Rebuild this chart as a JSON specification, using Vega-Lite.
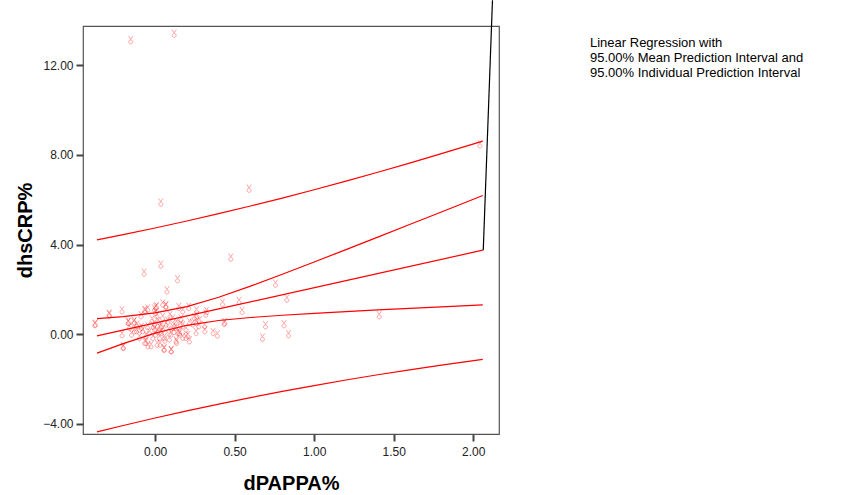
{
  "$schema": "https://vega.github.io/schema/vega-lite/v6.json",
  "width": 416,
  "height": 408,
  "autosize": {"type": "none"},
  "padding": {"left": 83, "top": 26, "right": 350, "bottom": 61},
  "background": "white",
  "title": {
    "text": ["Linear Regression with", "95.00% Mean Prediction Interval and", "95.00% Individual Prediction Interval"],
    "anchor": "start",
    "frame": "group",
    "orient": "top",
    "baseline": "top",
    "offset": 0,
    "dx": 507,
    "dy": 82,
    "font": "Liberation Sans",
    "fontSize": 13,
    "fontWeight": "normal",
    "lineHeight": 15,
    "color": "#000000"
  },
  "config": {
    "view": {"stroke": "#555555", "strokeWidth": 1.2},
    "font": "Liberation Sans",
    "axis": {
      "domain": false,
      "grid": false,
      "tickColor": "#444444",
      "tickWidth": 2,
      "tickSize": 7,
      "labelFont": "Liberation Sans",
      "labelFontSize": 12,
      "labelColor": "#222222",
      "titleFont": "Liberation Sans",
      "titleFontSize": 20,
      "titleFontWeight": "bold",
      "titleColor": "#000000"
    }
  },
  "datasets": {
    "pts": [
      {"x": -0.153, "y": 13.13}, {"x": 0.12, "y": 13.42}, {"x": 2.042, "y": 8.48},
      {"x": 0.591, "y": 6.5}, {"x": 0.036, "y": 5.88}, {"x": 0.476, "y": 3.42},
      {"x": 0.036, "y": 3.11}, {"x": -0.069, "y": 2.75}, {"x": 0.141, "y": 2.46},
      {"x": 0.075, "y": 1.96}, {"x": 0.757, "y": 2.26}, {"x": 0.828, "y": 1.59},
      {"x": 1.409, "y": 0.85}, {"x": 0.547, "y": 1.04}, {"x": 0.528, "y": 1.49},
      {"x": 0.424, "y": 1.4}, {"x": -0.208, "y": 1.07}, {"x": -0.289, "y": 0.92},
      {"x": 0.067, "y": 1.28}, {"x": 0.004, "y": 1.22}, {"x": -0.06, "y": 1.07},
      {"x": 0.149, "y": 1.22}, {"x": 0.212, "y": 1.22}, {"x": 0.26, "y": 1.07},
      {"x": 0.323, "y": 1.04}, {"x": -0.379, "y": 0.45}, {"x": -0.208, "y": 0.0},
      {"x": -0.201, "y": -0.57}, {"x": -0.17, "y": 0.55}, {"x": -0.134, "y": 0.55},
      {"x": -0.148, "y": 0.03}, {"x": -0.117, "y": 0.18}, {"x": -0.086, "y": 0.33},
      {"x": -0.065, "y": -0.34}, {"x": -0.044, "y": -0.49}, {"x": 0.013, "y": -0.42},
      {"x": 0.055, "y": -0.64}, {"x": 0.061, "y": -0.24}, {"x": 0.103, "y": -0.71},
      {"x": 0.135, "y": -0.34}, {"x": 0.155, "y": 0.03}, {"x": 0.193, "y": -0.12},
      {"x": 0.26, "y": 0.55}, {"x": 0.275, "y": 0.4}, {"x": 0.313, "y": 0.18},
      {"x": 0.365, "y": 0.1}, {"x": 0.392, "y": -0.01}, {"x": 0.438, "y": 0.55},
      {"x": 0.675, "y": -0.15}, {"x": 0.694, "y": 0.4}, {"x": 0.811, "y": 0.45},
      {"x": 0.839, "y": 0.0}, {"x": 0.264, "y": 0.85}, {"x": 0.319, "y": 0.92},
      {"x": 0.434, "y": 0.5}, {"x": -0.375, "y": 0.48}, {"x": -0.287, "y": 0.88},
      {"x": -0.167, "y": 0.55}, {"x": -0.13, "y": 0.59}, {"x": -0.199, "y": -0.54},
      {"x": -0.046, "y": 1.15}, {"x": 0.01, "y": 1.25}, {"x": 0.069, "y": 1.29},
      {"x": -0.057, "y": -0.34}, {"x": -0.025, "y": -0.49}, {"x": 0.031, "y": -0.42},
      {"x": 0.059, "y": -0.64}, {"x": 0.1, "y": -0.71}, {"x": 0.153, "y": 0.1},
      {"x": 0.174, "y": 0.4}, {"x": 0.195, "y": 0.25}, {"x": 0.136, "y": 0.55},
      {"x": 0.111, "y": 0.7}, {"x": 0.206, "y": -0.04}, {"x": -0.113, "y": 0.43},
      {"x": -0.098, "y": 0.25}, {"x": -0.077, "y": 0.18}, {"x": -0.046, "y": 0.36},
      {"x": -0.035, "y": 0.1}, {"x": -0.004, "y": 0.25}, {"x": -0.004, "y": 0.48},
      {"x": 0.028, "y": 0.33}, {"x": -0.019, "y": 0.66}, {"x": 0.011, "y": 0.85},
      {"x": 0.048, "y": 0.77}, {"x": 0.038, "y": 0.1}, {"x": 0.003, "y": 0.03},
      {"x": 0.069, "y": 0.48}, {"x": 0.086, "y": 0.21}, {"x": 0.059, "y": -0.12},
      {"x": 0.028, "y": -0.12}, {"x": -0.014, "y": -0.12}, {"x": -0.057, "y": -0.04},
      {"x": 0.128, "y": 0.33}, {"x": 0.143, "y": 0.1}, {"x": 0.164, "y": 0.7},
      {"x": 0.1, "y": 0.03}, {"x": 0.111, "y": 0.33}, {"x": 0.09, "y": -0.19},
      {"x": 0.174, "y": -0.12}, {"x": 0.132, "y": -0.27}, {"x": -0.161, "y": 0.33},
      {"x": -0.13, "y": 0.18}, {"x": -0.004, "y": 1.15}, {"x": 0.048, "y": 1.37},
      {"x": 0.003, "y": 1.0}, {"x": -0.067, "y": 1.07}, {"x": 0.094, "y": 0.85},
      {"x": 0.174, "y": 1.07}, {"x": 0.248, "y": 0.77}, {"x": 0.237, "y": 0.48},
      {"x": 0.216, "y": 0.55}, {"x": 0.279, "y": 0.63}, {"x": 0.311, "y": 0.4},
      {"x": 0.258, "y": 0.1}, {"x": 0.216, "y": -0.27}, {"x": -0.098, "y": -0.12},
      {"x": -0.088, "y": 0.85}, {"x": 0.02, "y": 0.6}, {"x": 0.04, "y": 0.4},
      {"x": 0.015, "y": 0.15}, {"x": -0.01, "y": 0.38}, {"x": 0.05, "y": 0.25},
      {"x": 0.12, "y": 0.15}, {"x": 0.16, "y": 0.45}, {"x": 0.08, "y": 0.6}
    ],
    "lines": [
      {"s": "fit", "x": -0.365, "y": -0.08}, {"s": "fit", "x": 0.4, "y": 1.128}, {"s": "fit", "x": 1.2, "y": 2.391}, {"s": "fit", "x": 2.06, "y": 3.749},
      {"s": "mu", "x": -0.365, "y": 0.688}, {"s": "mu", "x": -0.2, "y": 0.783}, {"s": "mu", "x": 0.0, "y": 0.949}, {"s": "mu", "x": 0.2, "y": 1.229},
      {"s": "mu", "x": 0.4, "y": 1.647}, {"s": "mu", "x": 0.6, "y": 2.143}, {"s": "mu", "x": 0.8, "y": 2.675}, {"s": "mu", "x": 1.0, "y": 3.221},
      {"s": "mu", "x": 1.2, "y": 3.775}, {"s": "mu", "x": 1.4, "y": 4.333}, {"s": "mu", "x": 1.6, "y": 4.893}, {"s": "mu", "x": 1.8, "y": 5.455},
      {"s": "mu", "x": 2.06, "y": 6.188},
      {"s": "ml", "x": -0.365, "y": -0.848}, {"s": "ml", "x": -0.2, "y": -0.423}, {"s": "ml", "x": 0.0, "y": 0.043}, {"s": "ml", "x": 0.2, "y": 0.395},
      {"s": "ml", "x": 0.4, "y": 0.609}, {"s": "ml", "x": 0.6, "y": 0.743}, {"s": "ml", "x": 0.8, "y": 0.843}, {"s": "ml", "x": 1.0, "y": 0.929},
      {"s": "ml", "x": 1.2, "y": 1.007}, {"s": "ml", "x": 1.4, "y": 1.081}, {"s": "ml", "x": 1.6, "y": 1.151}, {"s": "ml", "x": 1.8, "y": 1.221},
      {"s": "ml", "x": 2.06, "y": 1.31},
      {"s": "iu", "x": -0.365, "y": 4.208}, {"s": "iu", "x": -0.2, "y": 4.442}, {"s": "iu", "x": 0.0, "y": 4.739}, {"s": "iu", "x": 0.2, "y": 5.052},
      {"s": "iu", "x": 0.4, "y": 5.379}, {"s": "iu", "x": 0.6, "y": 5.72}, {"s": "iu", "x": 0.8, "y": 6.076}, {"s": "iu", "x": 1.0, "y": 6.447},
      {"s": "iu", "x": 1.2, "y": 6.831}, {"s": "iu", "x": 1.4, "y": 7.229}, {"s": "iu", "x": 1.6, "y": 7.637}, {"s": "iu", "x": 1.8, "y": 8.058},
      {"s": "iu", "x": 2.06, "y": 8.622},
      {"s": "il", "x": -0.365, "y": -4.368}, {"s": "il", "x": -0.2, "y": -4.082}, {"s": "il", "x": 0.0, "y": -3.747}, {"s": "il", "x": 0.2, "y": -3.428},
      {"s": "il", "x": 0.4, "y": -3.123}, {"s": "il", "x": 0.6, "y": -2.834}, {"s": "il", "x": 0.8, "y": -2.558}, {"s": "il", "x": 1.0, "y": -2.297},
      {"s": "il", "x": 1.2, "y": -2.049}, {"s": "il", "x": 1.4, "y": -1.815}, {"s": "il", "x": 1.6, "y": -1.593}, {"s": "il", "x": 1.8, "y": -1.382},
      {"s": "il", "x": 2.06, "y": -1.124}
    ],
    "black": [
      {"x": 2.063, "y": 3.75}, {"x": 2.121, "y": 14.91}
    ]
  },
  "layer": [
    {
      "data": {"name": "pts"},
      "mark": {
        "type": "point",
        "shape": "M-0.55,-1L0,-0.2L0.55,-1M-0.5,0.45A0.5,0.5 0 1,0 0.5,0.45A0.5,0.5 0 1,0 -0.5,0.45",
        "size": 64,
        "filled": false,
        "stroke": "#ff0000",
        "strokeWidth": 0.8,
        "opacity": 0.45
      },
      "encoding": {
        "x": {
          "field": "x", "type": "quantitative",
          "scale": {"domain": [-0.453, 2.162], "nice": false, "zero": false},
          "axis": {"values": [0, 0.5, 1, 1.5, 2], "format": ".2f", "title": "dPAPPA%", "labelPadding": 5, "titlePadding": 16}
        },
        "y": {
          "field": "y", "type": "quantitative",
          "scale": {"domain": [-4.46, 13.76], "nice": false, "zero": false},
          "axis": {"values": [-4, 0, 4, 8, 12], "format": ".2f", "title": "dhsCRP%", "labelPadding": 3, "titlePadding": 7}
        }
      }
    },
    {
      "data": {"name": "lines"},
      "mark": {"type": "line", "color": "#ff0000", "strokeWidth": 1.2, "interpolate": "linear"},
      "encoding": {
        "x": {"field": "x", "type": "quantitative"},
        "y": {"field": "y", "type": "quantitative"},
        "detail": {"field": "s", "type": "nominal"},
        "order": {"field": "x", "type": "quantitative"}
      }
    },
    {
      "data": {"name": "black"},
      "mark": {"type": "line", "color": "#000000", "strokeWidth": 1.2, "clip": false},
      "encoding": {
        "x": {"field": "x", "type": "quantitative"},
        "y": {"field": "y", "type": "quantitative"}
      }
    }
  ]
}
